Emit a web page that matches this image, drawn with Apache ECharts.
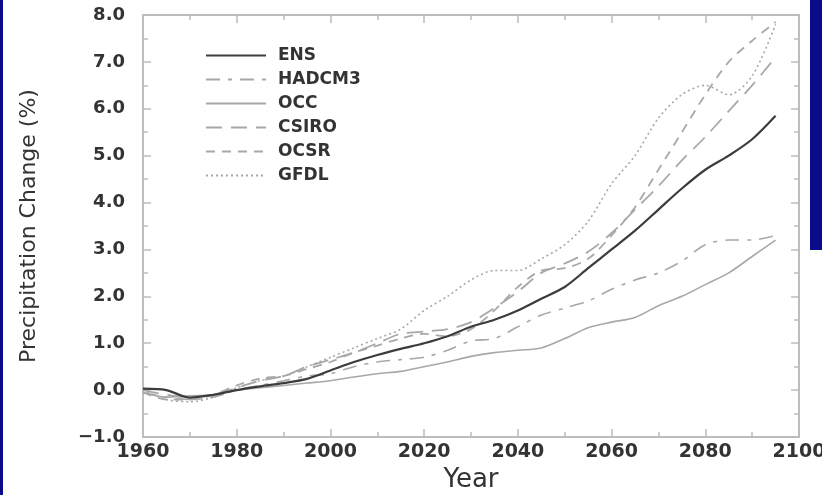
<!DOCTYPE html>
<html>
<head>
<meta charset="utf-8">
<script src="https://cdn.jsdelivr.net/npm/echarts@6/dist/echarts.min.js"></script>
<style>
  html, body { margin: 0; padding: 0; background: #fff; }
  #chart { width: 822px; height: 495px; }
</style>
</head>
<body>
<div id="chart"></div>
<script>
const years = [1960, 1965, 1970, 1975, 1980, 1985, 1990, 1995, 2000, 2005, 2010, 2015, 2020, 2025,
  2030, 2035, 2040, 2045, 2050, 2055, 2060, 2065, 2070, 2075, 2080, 2085, 2090, 2095];

const ens    = [0.03, 0.0, -0.16, -0.1, 0.0, 0.08, 0.15, 0.24, 0.42, 0.6, 0.75, 0.88, 1.0, 1.15,
  1.35, 1.5, 1.7, 1.95, 2.2, 2.6, 3.0, 3.4, 3.85, 4.3, 4.7, 5.0, 5.35, 5.85];
const hadcm3 = [-0.05, -0.15, -0.2, -0.15, 0.0, 0.1, 0.2, 0.3, 0.35, 0.5, 0.6, 0.65, 0.7, 0.85,
  1.05, 1.1, 1.35, 1.6, 1.75, 1.9, 2.15, 2.35, 2.5, 2.75, 3.1, 3.2, 3.2, 3.3];
const occ    = [-0.05, -0.15, -0.12, -0.1, 0.0, 0.05, 0.1, 0.15, 0.2, 0.28, 0.35, 0.4, 0.5, 0.6,
  0.72, 0.8, 0.85, 0.9, 1.1, 1.33, 1.45, 1.55, 1.8, 2.0, 2.25, 2.5, 2.85, 3.2];
const csiro  = [0.0, -0.1, -0.15, -0.1, 0.05, 0.2, 0.3, 0.5, 0.65, 0.8, 1.0, 1.2, 1.25, 1.3,
  1.45, 1.75, 2.1, 2.5, 2.7, 2.95, 3.35, 3.85, 4.35, 4.9, 5.4, 5.95, 6.5, 7.1];
const ocsr   = [-0.05, -0.2, -0.2, -0.1, 0.1, 0.25, 0.3, 0.45, 0.6, 0.8, 0.95, 1.1, 1.2, 1.15,
  1.3, 1.7, 2.2, 2.55, 2.6, 2.8, 3.3, 3.9, 4.7, 5.5, 6.3, 7.0, 7.45, 7.85];
const gfdl   = [0.0, -0.2, -0.25, -0.15, 0.05, 0.2, 0.3, 0.5, 0.7, 0.9, 1.1, 1.3, 1.7, 2.0,
  2.35, 2.55, 2.55, 2.8, 3.1, 3.6, 4.4, 5.0, 5.8, 6.3, 6.5, 6.3, 6.7, 7.8];

const seriesNames = ['ENS', 'HADCM3', 'OCC', 'CSIRO', 'OCSR', 'GFDL'];

const chart = echarts.init(document.getElementById('chart'));

const pairs = vals => years.map((y, i) => [y, vals[i]]);

const lineSeries = (name, vals, color, width, type) => ({
  name: name,
  type: 'line',
  data: pairs(vals),
  symbol: 'none',
  smooth: 0.3,
  lineStyle: { color: color, width: width, type: type },
  itemStyle: { color: color },
  z: name === 'ENS' ? 5 : 3
});

const boxLine = { show: true, onZero: false, lineStyle: { color: '#bdbdbd', width: 2 } };
const tickStyle = { color: '#bdbdbd', width: 1.5 };
const font = 'DejaVu Sans, Verdana, sans-serif';

const option = {
  backgroundColor: '#fff',
  animation: false,
  graphic: [
    { type: 'rect', shape: { x: 0, y: 0, width: 3, height: 495 }, style: { fill: '#0a0a8a' } },
    { type: 'rect', shape: { x: 810, y: 0, width: 12, height: 250 }, style: { fill: '#0a0a8a' } }
  ],
  grid: { left: 143, right: 23, top: 15, bottom: 58, outerBoundsMode: 'none' },
  legend: {
    orient: 'vertical',
    left: 200,
    top: 42,
    itemWidth: 60,
    itemHeight: 14,
    itemGap: 7,
    data: seriesNames,
    itemStyle: { opacity: 0 },
    textStyle: { fontFamily: font, fontSize: 17, color: '#333', fontWeight: 'bold', padding: [0, 0, 0, 7] }
  },
  xAxis: [
    {
      type: 'value', min: 1960, max: 2100, interval: 20,
      name: 'Year', nameLocation: 'middle', nameGap: 30,
      nameTextStyle: { fontFamily: font, fontSize: 26, color: '#333' },
      axisLine: boxLine,
      axisTick: { inside: true, length: 8, lineStyle: tickStyle },
      minorTick: { show: true, splitNumber: 2, length: 5, lineStyle: tickStyle },
      axisLabel: { fontFamily: font, fontSize: 19, fontWeight: 'bold', color: '#333', margin: 6, formatter: v => String(v) },
      splitLine: { show: false }
    },
    {
      type: 'value', min: 1960, max: 2100, interval: 20, position: 'top',
      axisLine: boxLine,
      axisTick: { inside: true, length: 8, lineStyle: tickStyle },
      minorTick: { show: true, splitNumber: 2, length: 5, lineStyle: tickStyle },
      axisLabel: { show: false },
      splitLine: { show: false }
    }
  ],
  yAxis: [
    {
      type: 'value', min: -1, max: 8, interval: 1,
      name: 'Precipitation Change (%)', nameLocation: 'middle', nameGap: 103,
      nameTextStyle: { fontFamily: font, fontSize: 22, color: '#333' },
      axisLine: boxLine,
      axisTick: { inside: true, length: 8, lineStyle: tickStyle },
      minorTick: { show: true, splitNumber: 2, length: 5, lineStyle: tickStyle },
      axisLabel: {
        fontFamily: font, fontSize: 18, fontWeight: 'bold', color: '#333', margin: 18,
        formatter: v => (v < 0 ? '\u2212' + Math.abs(v).toFixed(1) : v.toFixed(1))
      },
      splitLine: { show: false }
    },
    {
      type: 'value', min: -1, max: 8, interval: 1, position: 'right',
      axisLine: boxLine,
      axisTick: { inside: true, length: 8, lineStyle: tickStyle },
      minorTick: { show: true, splitNumber: 2, length: 5, lineStyle: tickStyle },
      axisLabel: { show: false },
      splitLine: { show: false }
    }
  ],
  series: [
    lineSeries('ENS', ens, '#3c3c3c', 2.2, 'solid'),
    lineSeries('HADCM3', hadcm3, '#a8a8a8', 1.6, [14, 8, 4, 8]),
    lineSeries('OCC', occ, '#a8a8a8', 1.6, 'solid'),
    lineSeries('CSIRO', csiro, '#a8a8a8', 1.8, [16, 9]),
    lineSeries('OCSR', ocsr, '#a8a8a8', 1.8, [9, 7]),
    lineSeries('GFDL', gfdl, '#a8a8a8', 1.6, [2, 3])
  ]
};

chart.setOption(option);
</script>
</body>
</html>
